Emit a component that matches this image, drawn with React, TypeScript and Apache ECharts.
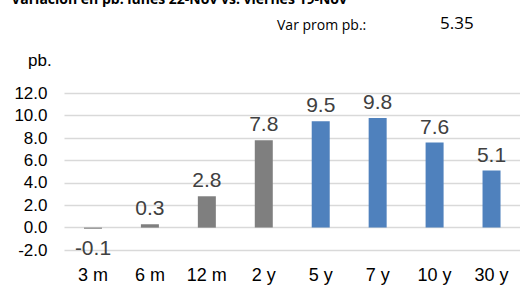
import React, { useEffect, useRef } from "react";
import * as echarts from "echarts";

const categories = ["3 m", "6 m", "12 m", "2 y", "5 y", "7 y", "10 y", "30 y"];
const values = [-0.1, 0.3, 2.8, 7.8, 9.5, 9.8, 7.6, 5.1];
const barColors = ["#7f7f7f", "#7f7f7f", "#7f7f7f", "#7f7f7f", "#4f81bd", "#4f81bd", "#4f81bd", "#4f81bd"];
const titleText = "Variación en pb. lunes 22-Nov vs. viernes 19-Nov";
const avgLabel = "Var prom pb.:";
const avgValue = "5.35";
const unitLabel = "pb.";

export default function App() {
  const ref = useRef<HTMLDivElement>(null);
  useEffect(() => {
    if (!ref.current) return;
    const chart = echarts.init(ref.current, null, { renderer: "svg" });
    chart.setOption({
      animation: false,
      backgroundColor: "#ffffff",
      grid: { left: 64.5, right: -3, top: 93.3, bottom: 39, containLabel: false },
      xAxis: {
        type: "category",
        data: categories,
        axisLine: { show: false },
        axisTick: { show: false },
        axisLabel: {
          color: "#000000",
          fontSize: 18,
          fontFamily: "Liberation Sans, Arial, sans-serif",
          margin: 16,
        },
      },
      yAxis: {
        type: "value",
        min: -2,
        max: 12,
        interval: 2,
        axisLine: { show: false },
        axisTick: { show: false },
        splitLine: { lineStyle: { color: "#d9d9d9", width: 1.3 } },
        axisLabel: {
          color: "#000000",
          fontSize: 17,
          fontFamily: "Liberation Sans, Arial, sans-serif",
          margin: 17,
          formatter: (v: number) => v.toFixed(1),
        },
      },
      series: [
        {
          type: "bar",
          barWidth: 18,
          data: values.map((v, i) => ({
            value: v,
            itemStyle: { color: barColors[i] },
            label: {
              show: true,
              position: v < 0 ? "bottom" : "top",
              distance: v < 0 ? 8 : 6,
            },
          })),
          label: {
            color: "#404040",
            fontSize: 21,
            fontFamily: "Liberation Sans, Arial, sans-serif",
            formatter: (p: any) => Number(p.value).toFixed(1),
          },
        },
      ],
      graphic: [
        {
          type: "text",
          right: 173,
          top: -9,
          style: {
            text: titleText,
            font: "bold 14px 'Open Sans', sans-serif",
            fill: "#000000",
          },
        },
        {
          type: "text",
          left: 277,
          top: 17,
          style: {
            text: avgLabel,
            font: "14px 'Open Sans', sans-serif",
            fill: "#000000",
          },
        },
        {
          type: "text",
          left: 440,
          top: 14,
          style: {
            text: avgValue,
            font: "17px 'Open Sans', sans-serif",
            fill: "#000000",
          },
        },
        {
          type: "text",
          left: 28,
          top: 52,
          style: {
            text: unitLabel,
            font: "17px 'Liberation Sans', Arial, sans-serif",
            fill: "#000000",
          },
        },
      ],
    });
    return () => chart.dispose();
  }, []);
  return (
    <div
      ref={ref}
      style={{ position: "fixed", left: 0, top: 0, width: 520, height: 289 }}
    />
  );
}
